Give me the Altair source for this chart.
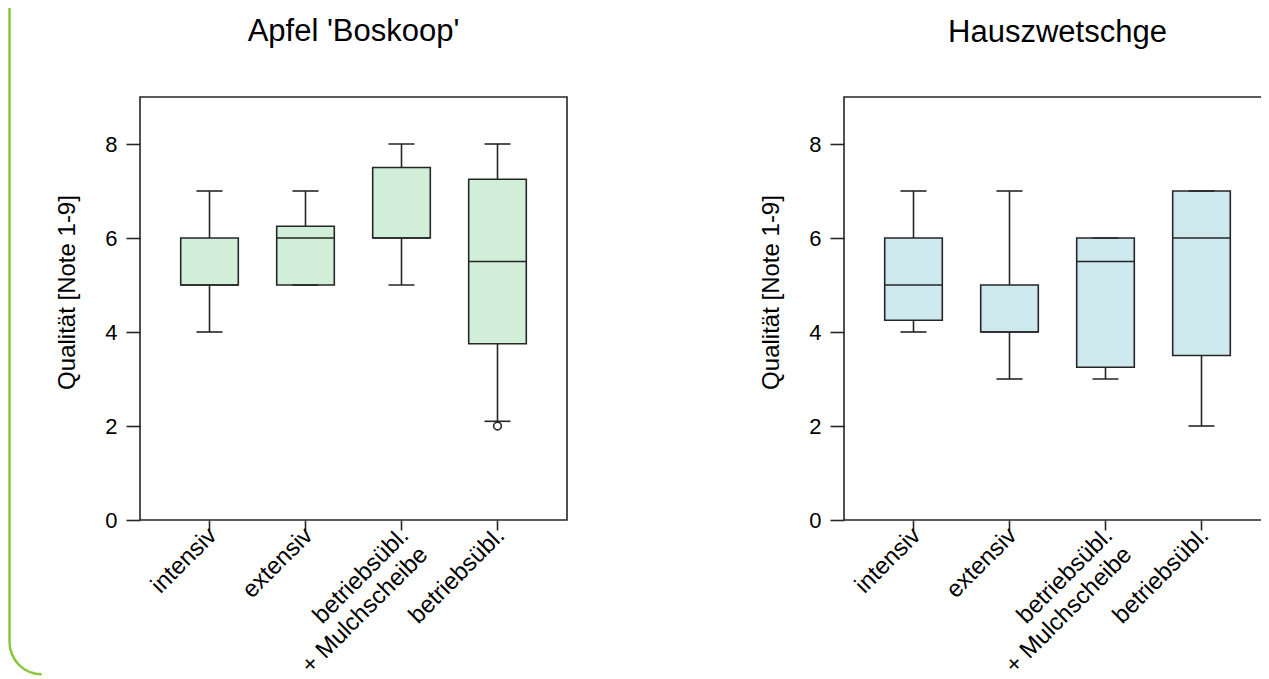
import altair as alt
import pandas as pd
import math

# ---------------- data ----------------
categories = ["intensiv", "extensiv", "betriebsübl.\n+ Mulchscheibe", "betriebsübl."]

apfel_lower = [4, 5, 5, 2.1]
apfel_q1 = [5, 5, 6, 3.75]
apfel_median = [5, 6, 6, 5.5]
apfel_q3 = [6, 6.25, 7.5, 7.25]
apfel_upper = [7, 7, 8, 8]
apfel_outlier_cat = ["betriebsübl."]
apfel_outlier_val = [2]

zwetschge_lower = [4, 3, 3, 2]
zwetschge_q1 = [4.25, 4, 3.25, 3.5]
zwetschge_median = [5, 4, 5.5, 6]
zwetschge_q3 = [6, 5, 6, 7]
zwetschge_upper = [7, 7, 6, 7]
zwetschge_outlier_cat = []
zwetschge_outlier_val = []

FONT = "Liberation Sans"
DARK = "#262626"
LW = 1.6
W, H = 427, 423


def panel(title, lower, q1, med, q3, upper, ocat, oval, fill, border=False):
    df = pd.DataFrame({"cat": categories, "lower": lower, "q1": q1,
                       "median": med, "q3": q3, "upper": upper})
    x = alt.X("cat:N", sort=categories,
              scale=alt.Scale(paddingInner=0.4, paddingOuter=0.424),
              axis=alt.Axis(title=None, labelAngle=315, labelAlign="right",
                            labelBaseline="top", labelPadding=-7, labelOffset=-5,
                            tickSize=10, labelLineHeight=27,
                            labelExpr="split(datum.label, '\\n')",
                            labelFontSize=24, labelFont=FONT, labelColor="black",
                            tickColor=DARK, tickWidth=LW, domain=False))
    yscale = alt.Scale(domain=[0, 9], nice=False, zero=True)
    yaxis = alt.Axis(title="Qualität [Note 1-9]", values=[0, 2, 4, 6, 8],
                     grid=False, tickSize=14, labelPadding=9, labelFontSize=22,
                     labelFont=FONT, labelColor="black", tickColor=DARK,
                     tickWidth=LW, domain=False, titleFont=FONT,
                     titleFontSize=24, titleFontWeight="normal",
                     titleColor="black", titleX=-73, titleY=195, titleAngle=270,
                     titleAlign="center", titleBaseline="middle")
    base = alt.Chart(df)
    whisk_lo = base.mark_rule(color=DARK, strokeWidth=LW).encode(
        x=x, y=alt.Y("lower:Q", scale=yscale, axis=yaxis), y2="q1:Q")
    whisk_hi = base.mark_rule(color=DARK, strokeWidth=LW).encode(
        x=x, y=alt.Y("q3:Q", scale=yscale), y2="upper:Q")
    cap_lo = base.mark_tick(size=26, thickness=LW, color=DARK, opacity=1).encode(
        x=x, y=alt.Y("lower:Q", scale=yscale))
    cap_hi = base.mark_tick(size=26, thickness=LW, color=DARK, opacity=1).encode(
        x=x, y=alt.Y("upper:Q", scale=yscale))
    box = base.mark_bar(fill=fill, stroke=DARK, strokeWidth=LW, opacity=1).encode(
        x=x, y=alt.Y("q1:Q", scale=yscale), y2="q3:Q")
    medl = base.mark_tick(size=57, thickness=LW, color=DARK, opacity=1).encode(
        x=x, y=alt.Y("median:Q", scale=yscale))
    layers = [whisk_lo, whisk_hi, box, cap_lo, cap_hi, medl]
    if ocat:
        odf = pd.DataFrame({"cat": ocat, "val": oval})
        pts = alt.Chart(odf).mark_point(shape="circle", size=60, filled=False,
                                        color=DARK, strokeWidth=LW, opacity=1).encode(
            x=x, y=alt.Y("val:Q", scale=yscale))
        layers.append(pts)
    offset = 24
    if border:
        d0 = alt.Chart(pd.DataFrame({"d": [0]}))
        vline = d0.mark_rule(color="#8cc63e", strokeWidth=2.5, strokeCap="butt").encode(
            x=alt.value(-130.5), y=alt.value(-89), y2=alt.value(545))
        corner = d0.mark_arc(theta=math.pi, theta2=1.5 * math.pi,
                             innerRadius=31, outerRadius=33.5,
                             color="#8cc63e").encode(
            x=alt.value(-130.5 + 32.25), y=alt.value(545))
        layers = [vline, corner] + layers
        offset = 24 - 89
    return alt.layer(*layers).properties(
        width=W, height=H,
        title=alt.TitleParams(title, fontSize=31, font=FONT, baseline="alphabetic",
                              fontWeight="normal", color="black", offset=offset))


left = panel("Apfel 'Boskoop'", apfel_lower, apfel_q1, apfel_median, apfel_q3,
             apfel_upper, apfel_outlier_cat, apfel_outlier_val, "#d1eed8", border=True)
right = panel("Hauszwetschge", zwetschge_lower, zwetschge_q1, zwetschge_median,
              zwetschge_q3, zwetschge_upper, zwetschge_outlier_cat,
              zwetschge_outlier_val, "#cde9ee")

chart = alt.hconcat(left, right, spacing=190).properties(
    autosize=alt.AutoSizeParams(type="none"),
    padding={"left": 132, "top": 89, "right": 1121, "bottom": 574},
).configure_view(stroke=DARK, strokeWidth=LW)

chart.save("out.html", embed_options={"renderer": "svg", "actions": False})
